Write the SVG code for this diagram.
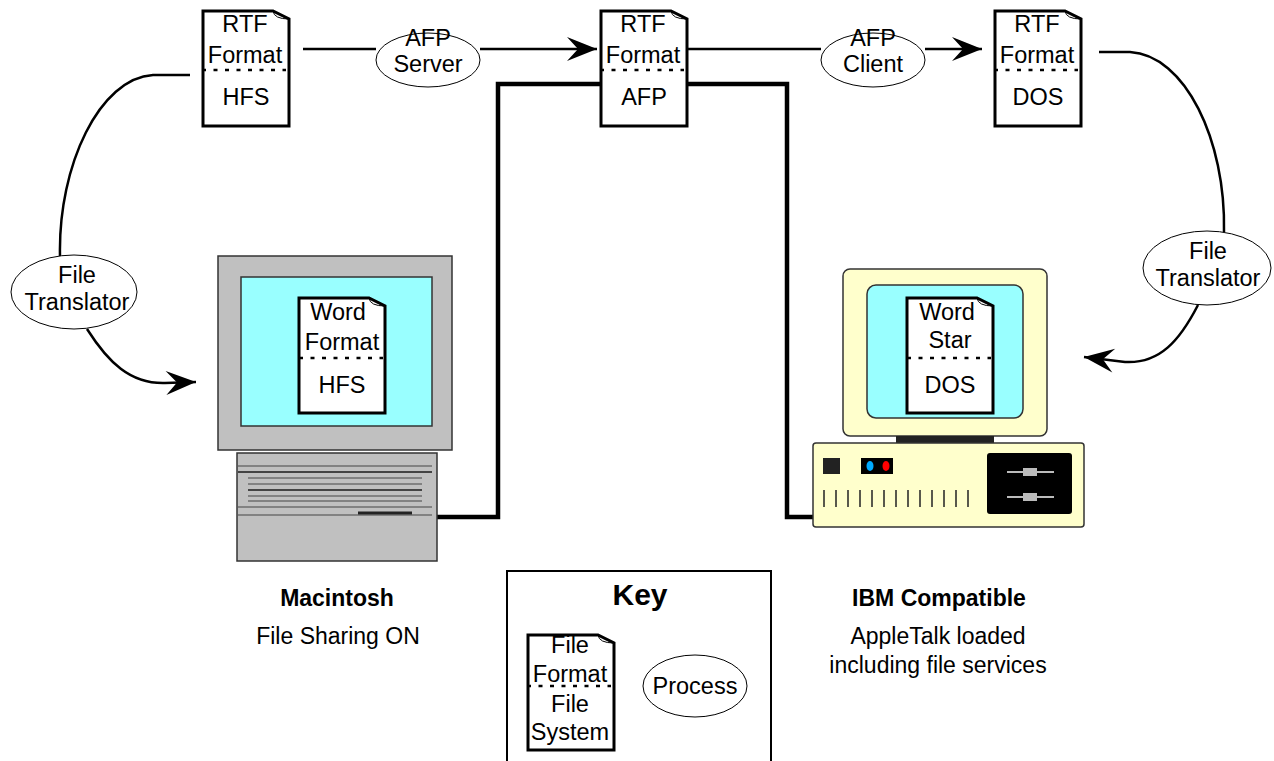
<svg xmlns="http://www.w3.org/2000/svg" width="1274" height="761" viewBox="0 0 1274 761">
  <defs>
    <style>
      text { font-family: "Liberation Sans", Arial, sans-serif; fill: #000; }
      .t { font-size: 23.5px; text-anchor: middle; }
      .cap { font-size: 23px; text-anchor: middle; }
      .capb { font-size: 23px; font-weight: bold; text-anchor: middle; }
      .doc { fill: #fff; stroke: #000; stroke-width: 3; stroke-linejoin: miter; }
      .fold { fill: none; stroke: #000; stroke-width: 1; }
      .dots { stroke: #000; stroke-width: 2.5; stroke-dasharray: 4 7.5; }
      .proc { fill: #fff; stroke: #000; stroke-width: 1; }
      .flow { fill: none; stroke: #000; stroke-width: 2.5; }
      .net { fill: none; stroke: #000; stroke-width: 4.5; stroke-linejoin: miter; }
    </style>
    <marker id="barb" viewBox="-32 -14 34 28" refX="0" refY="0" markerWidth="34" markerHeight="28" markerUnits="userSpaceOnUse" orient="auto">
      <path d="M0,0 L-30,-12 L-19,0 L-30,12 Z" fill="#000"/>
    </marker>
    <!-- file document: folded corner, dotted divider -->
    <g id="docShape">
      <path class="doc" d="M0,0 H70 L86,8 V115 H0 Z"/>
      <path class="fold" d="M70,0 Q71,8 86,8"/>
    </g>
  </defs>

  <rect width="1274" height="761" fill="#fff"/>

  <!-- connectors -->
  <g id="connectors">
    <path class="net" d="M436,517 H498 V84 H787 V517 H813"/>
    <path class="flow" d="M303,49 H376"/>
    <path class="flow" d="M480,49 H597" marker-end="url(#barb)"/>
    <path class="flow" d="M687,49 H821"/>
    <path class="flow" d="M925,49 H982" marker-end="url(#barb)"/>
    <path class="flow" d="M190,75 H153 C100,78 58,165 60,256"/>
    <path class="flow" d="M87,329 C108,362 130,384 165,383 L196,382" marker-end="url(#barb)"/>
    <path class="flow" d="M1099,52 H1130 C1185,55 1226,140 1224,232"/>
    <path class="flow" d="M1198,305 C1180,340 1160,364 1125,362 L1084,357" marker-end="url(#barb)"/>
  </g>

  <!-- Macintosh -->
  <g id="mac">
    <rect x="218" y="256" width="234" height="194" fill="#c0c0c0" stroke="#333" stroke-width="1.5"/>
    <rect x="241" y="277" width="191" height="149" fill="#99ffff" stroke="#333" stroke-width="1.5"/>
    <rect x="237" y="453" width="200" height="108" fill="#c0c0c0" stroke="#333" stroke-width="1.5"/>
    <g stroke="#444">
      <line x1="238" y1="466" x2="432" y2="466" stroke-width="1.2"/>
      <line x1="238" y1="472" x2="432" y2="472" stroke-width="2"/>
      <line x1="248" y1="478" x2="422" y2="478" stroke-width="1.2"/>
      <line x1="248" y1="484" x2="422" y2="484" stroke-width="1.2"/>
      <line x1="248" y1="490" x2="422" y2="490" stroke-width="2"/>
      <line x1="248" y1="496" x2="422" y2="496" stroke-width="1.2"/>
      <line x1="248" y1="501" x2="422" y2="501" stroke-width="1.2"/>
      <line x1="238" y1="507" x2="432" y2="507" stroke-width="1.2"/>
      <line x1="238" y1="515" x2="432" y2="515" stroke-width="1.2"/>
      <line x1="358" y1="513" x2="412" y2="513" stroke="#222" stroke-width="3"/>
    </g>
    <use href="#docShape" x="299" y="298"/>
    <line class="dots" x1="299" y1="358" x2="383" y2="358"/>
    <text class="t" x="338" y="320">Word</text>
    <text class="t" x="342" y="350">Format</text>
    <text class="t" x="342" y="393">HFS</text>
    <text class="capb" x="337" y="606">Macintosh</text>
    <text class="cap" x="338" y="644">File Sharing ON</text>
  </g>

  <!-- IBM compatible -->
  <g id="ibm">
    <rect x="843" y="269" width="204" height="167" rx="7" fill="#ffffcc" stroke="#333" stroke-width="1.5"/>
    <rect x="867" y="285" width="156" height="133" rx="9" fill="#99ffff" stroke="#333" stroke-width="1.5"/>
    <rect x="896" y="436" width="98" height="8" fill="#222"/>
    <rect x="813" y="443" width="271" height="84" rx="3" fill="#ffffcc" stroke="#333" stroke-width="1.5"/>
    <rect x="823" y="458" width="17" height="16" fill="#222"/>
    <rect x="861" y="458" width="32" height="16" fill="#000"/>
    <ellipse cx="870" cy="466" rx="3.5" ry="5" fill="#00aaff"/>
    <ellipse cx="886" cy="466" rx="3.5" ry="5" fill="#ff0000"/>
    <g stroke="#222" stroke-width="1.5">
      <line x1="824" y1="490" x2="824" y2="507"/>
      <line x1="836" y1="490" x2="836" y2="507"/>
      <line x1="848" y1="490" x2="848" y2="507"/>
      <line x1="860" y1="490" x2="860" y2="507"/>
      <line x1="872" y1="490" x2="872" y2="507"/>
      <line x1="884" y1="490" x2="884" y2="507"/>
      <line x1="896" y1="490" x2="896" y2="507"/>
      <line x1="908" y1="490" x2="908" y2="507"/>
      <line x1="920" y1="490" x2="920" y2="507"/>
      <line x1="932" y1="490" x2="932" y2="507"/>
      <line x1="944" y1="490" x2="944" y2="507"/>
      <line x1="956" y1="490" x2="956" y2="507"/>
      <line x1="968" y1="490" x2="968" y2="507"/>
    </g>
    <rect x="987" y="453" width="85" height="61" rx="3" fill="#000"/>
    <g stroke="#bbb" stroke-width="2">
      <line x1="1007" y1="472" x2="1054" y2="472"/>
      <line x1="1007" y1="497" x2="1054" y2="497"/>
    </g>
    <rect x="1023" y="468" width="14" height="8" fill="#bbb"/>
    <rect x="1023" y="493" width="14" height="8" fill="#bbb"/>
    <use href="#docShape" x="907" y="298"/>
    <line class="dots" x1="907" y1="358" x2="991" y2="358"/>
    <text class="t" x="947" y="320">Word</text>
    <text class="t" x="950" y="348">Star</text>
    <text class="t" x="950" y="393">DOS</text>
    <text class="capb" x="939" y="606">IBM Compatible</text>
    <text class="cap" x="938" y="644">AppleTalk loaded</text>
    <text class="cap" x="938" y="673">including file services</text>
  </g>

  <!-- RTF / HFS document -->
  <g id="doc-hfs">
    <use href="#docShape" x="203" y="11"/>
    <line class="dots" x1="202" y1="70" x2="286" y2="70"/>
    <text class="t" x="245" y="32">RTF</text>
    <text class="t" x="245" y="63">Format</text>
    <text class="t" x="246" y="105">HFS</text>
  </g>

  <!-- RTF / AFP document -->
  <g id="doc-afp">
    <use href="#docShape" x="601" y="11"/>
    <line class="dots" x1="600" y1="70" x2="684" y2="70"/>
    <text class="t" x="643" y="32">RTF</text>
    <text class="t" x="643" y="63">Format</text>
    <text class="t" x="644" y="105">AFP</text>
  </g>

  <!-- RTF / DOS document -->
  <g id="doc-dos">
    <use href="#docShape" x="995" y="11"/>
    <line class="dots" x1="994" y1="70" x2="1078" y2="70"/>
    <text class="t" x="1037" y="32">RTF</text>
    <text class="t" x="1037" y="63">Format</text>
    <text class="t" x="1038" y="105">DOS</text>
  </g>

  <!-- processes -->
  <g id="afp-server">
    <ellipse class="proc" cx="428" cy="60" rx="52" ry="27"/>
    <text class="t" x="428" y="46">AFP</text>
    <text class="t" x="428" y="72">Server</text>
  </g>
  <g id="afp-client">
    <ellipse class="proc" cx="873" cy="60" rx="52" ry="27"/>
    <text class="t" x="873" y="46">AFP</text>
    <text class="t" x="873" y="72">Client</text>
  </g>
  <g id="translator-left">
    <ellipse class="proc" cx="74" cy="292" rx="63" ry="37"/>
    <text class="t" x="77" y="283">File</text>
    <text class="t" x="77" y="310">Translator</text>
  </g>
  <g id="translator-right">
    <ellipse class="proc" cx="1207" cy="268" rx="64" ry="37"/>
    <text class="t" x="1208" y="259">File</text>
    <text class="t" x="1208" y="286">Translator</text>
  </g>

  <!-- legend -->
  <g id="key">
    <rect x="507" y="571" width="264" height="200" fill="#fff" stroke="#000" stroke-width="2"/>
    <text x="640" y="605" font-size="30" font-weight="bold" text-anchor="middle">Key</text>
    <use href="#docShape" x="528" y="635"/>
    <line class="dots" x1="527" y1="686" x2="611" y2="686"/>
    <text class="t" x="570" y="653">File</text>
    <text class="t" x="570" y="682">Format</text>
    <text class="t" x="570" y="712">File</text>
    <text class="t" x="570" y="740">System</text>
    <ellipse class="proc" cx="695" cy="686" rx="52" ry="31"/>
    <text class="t" x="695" y="694">Process</text>
  </g>
</svg>
